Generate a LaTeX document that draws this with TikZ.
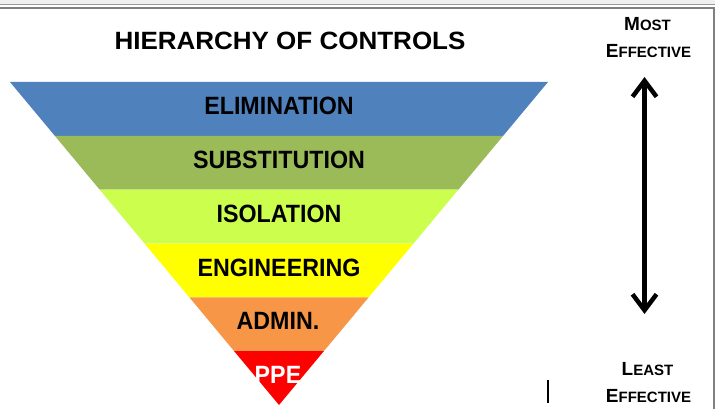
\documentclass[tikz,border=0pt]{standalone}
\usepackage{fontspec}
\setmainfont{Liberation Sans}
\usetikzlibrary{calc,arrows.meta}
\definecolor{cBlue}{RGB}{79,129,189}
\definecolor{cOlive}{RGB}{155,187,89}
\definecolor{cLime}{RGB}{204,255,77}
\definecolor{cYellow}{RGB}{255,255,0}
\definecolor{cOrange}{RGB}{247,150,70}
\definecolor{cRed}{RGB}{255,0,0}
\definecolor{cFrame}{RGB}{128,128,128}
\newcommand{\bigsc}[2]{{\fontsize{19}{21}\selectfont #1}{\fontsize{15}{17}\selectfont #2}}
\newcommand{\cond}[1]{\scalebox{0.93}[1]{#1}}
\tikzset{
  band/.style={font=\bfseries\fontsize{25}{27}\selectfont, text=black, inner sep=0pt, anchor=center},
  side/.style={font=\bfseries, inner sep=0pt, anchor=center},
  arrowline/.style={line width=4.5pt, {Straight Barb[length=16pt,width=24pt]}-{Straight Barb[length=16pt,width=24pt]}},
  frameline/.style={draw=cFrame, line width=1.3pt}
}
\begin{document}
\begin{tikzpicture}[x=1pt,y=-1pt]
\useasboundingbox (0,0) rectangle (715,409);
% top border
\fill[gray!12] (0,0) rectangle (715,4);
\draw[draw=cFrame!80, line width=1pt] (0,4.5) -- (715,4.5);
\draw[frameline] (0,8) -- (714,8) -- (714,409);
% triangle
\coordinate (TL) at (10,82);
\coordinate (TR) at (548,82);
\coordinate (AP) at (279,405);
\foreach \i/\c in {0/cBlue,1/cOlive,2/cLime,3/cYellow,4/cOrange,5/cRed} {
  \pgfmathtruncatemacro\j{\i+1}
  \fill[\c] ($(TL)!\i/6!(AP)$) -- ($(TR)!\i/6!(AP)$) -- ($(TR)!\j/6!(AP)$) -- ($(TL)!\j/6!(AP)$) -- cycle;
}
% title
\node[font=\bfseries\fontsize{25}{27}\selectfont, inner sep=0pt] (title) at (290,41) {\scalebox{1.04}[1]{HIERARCHY OF CONTROLS}};
% band labels
\node[band] (elim) at (279,106) {\cond{ELIMINATION}};
\node[band] (subst) at (279,160) {\cond{SUBSTITUTION}};
\node[band] (isol) at (279,214) {\cond{ISOLATION}};
\node[band] (eng) at (279,268) {\cond{ENGINEERING}};
\node[band] (admin) at (278,321) {\cond{ADMIN.}};
\node[band, text=white] (ppe) at (278,375) {\cond{PPE}};
% side labels
\node[side] (most) at (647.5,24) {\bigsc{M}{OST}};
\node[side] (mosteff) at (648.5,51) {\bigsc{E}{FFECTIVE}};
\node[side] (least) at (647.5,369) {\bigsc{L}{EAST}};
\node[side] (leasteff) at (648.5,396) {\bigsc{E}{FFECTIVE}};
% arrow
\coordinate (atop) at (644.5,77);
\coordinate (abot) at (644.5,314);
\draw[arrowline] (atop) -- (abot);
% small mark
\draw[line width=1.5pt] (548,380) -- (548,403);
\end{tikzpicture}
\end{document}
